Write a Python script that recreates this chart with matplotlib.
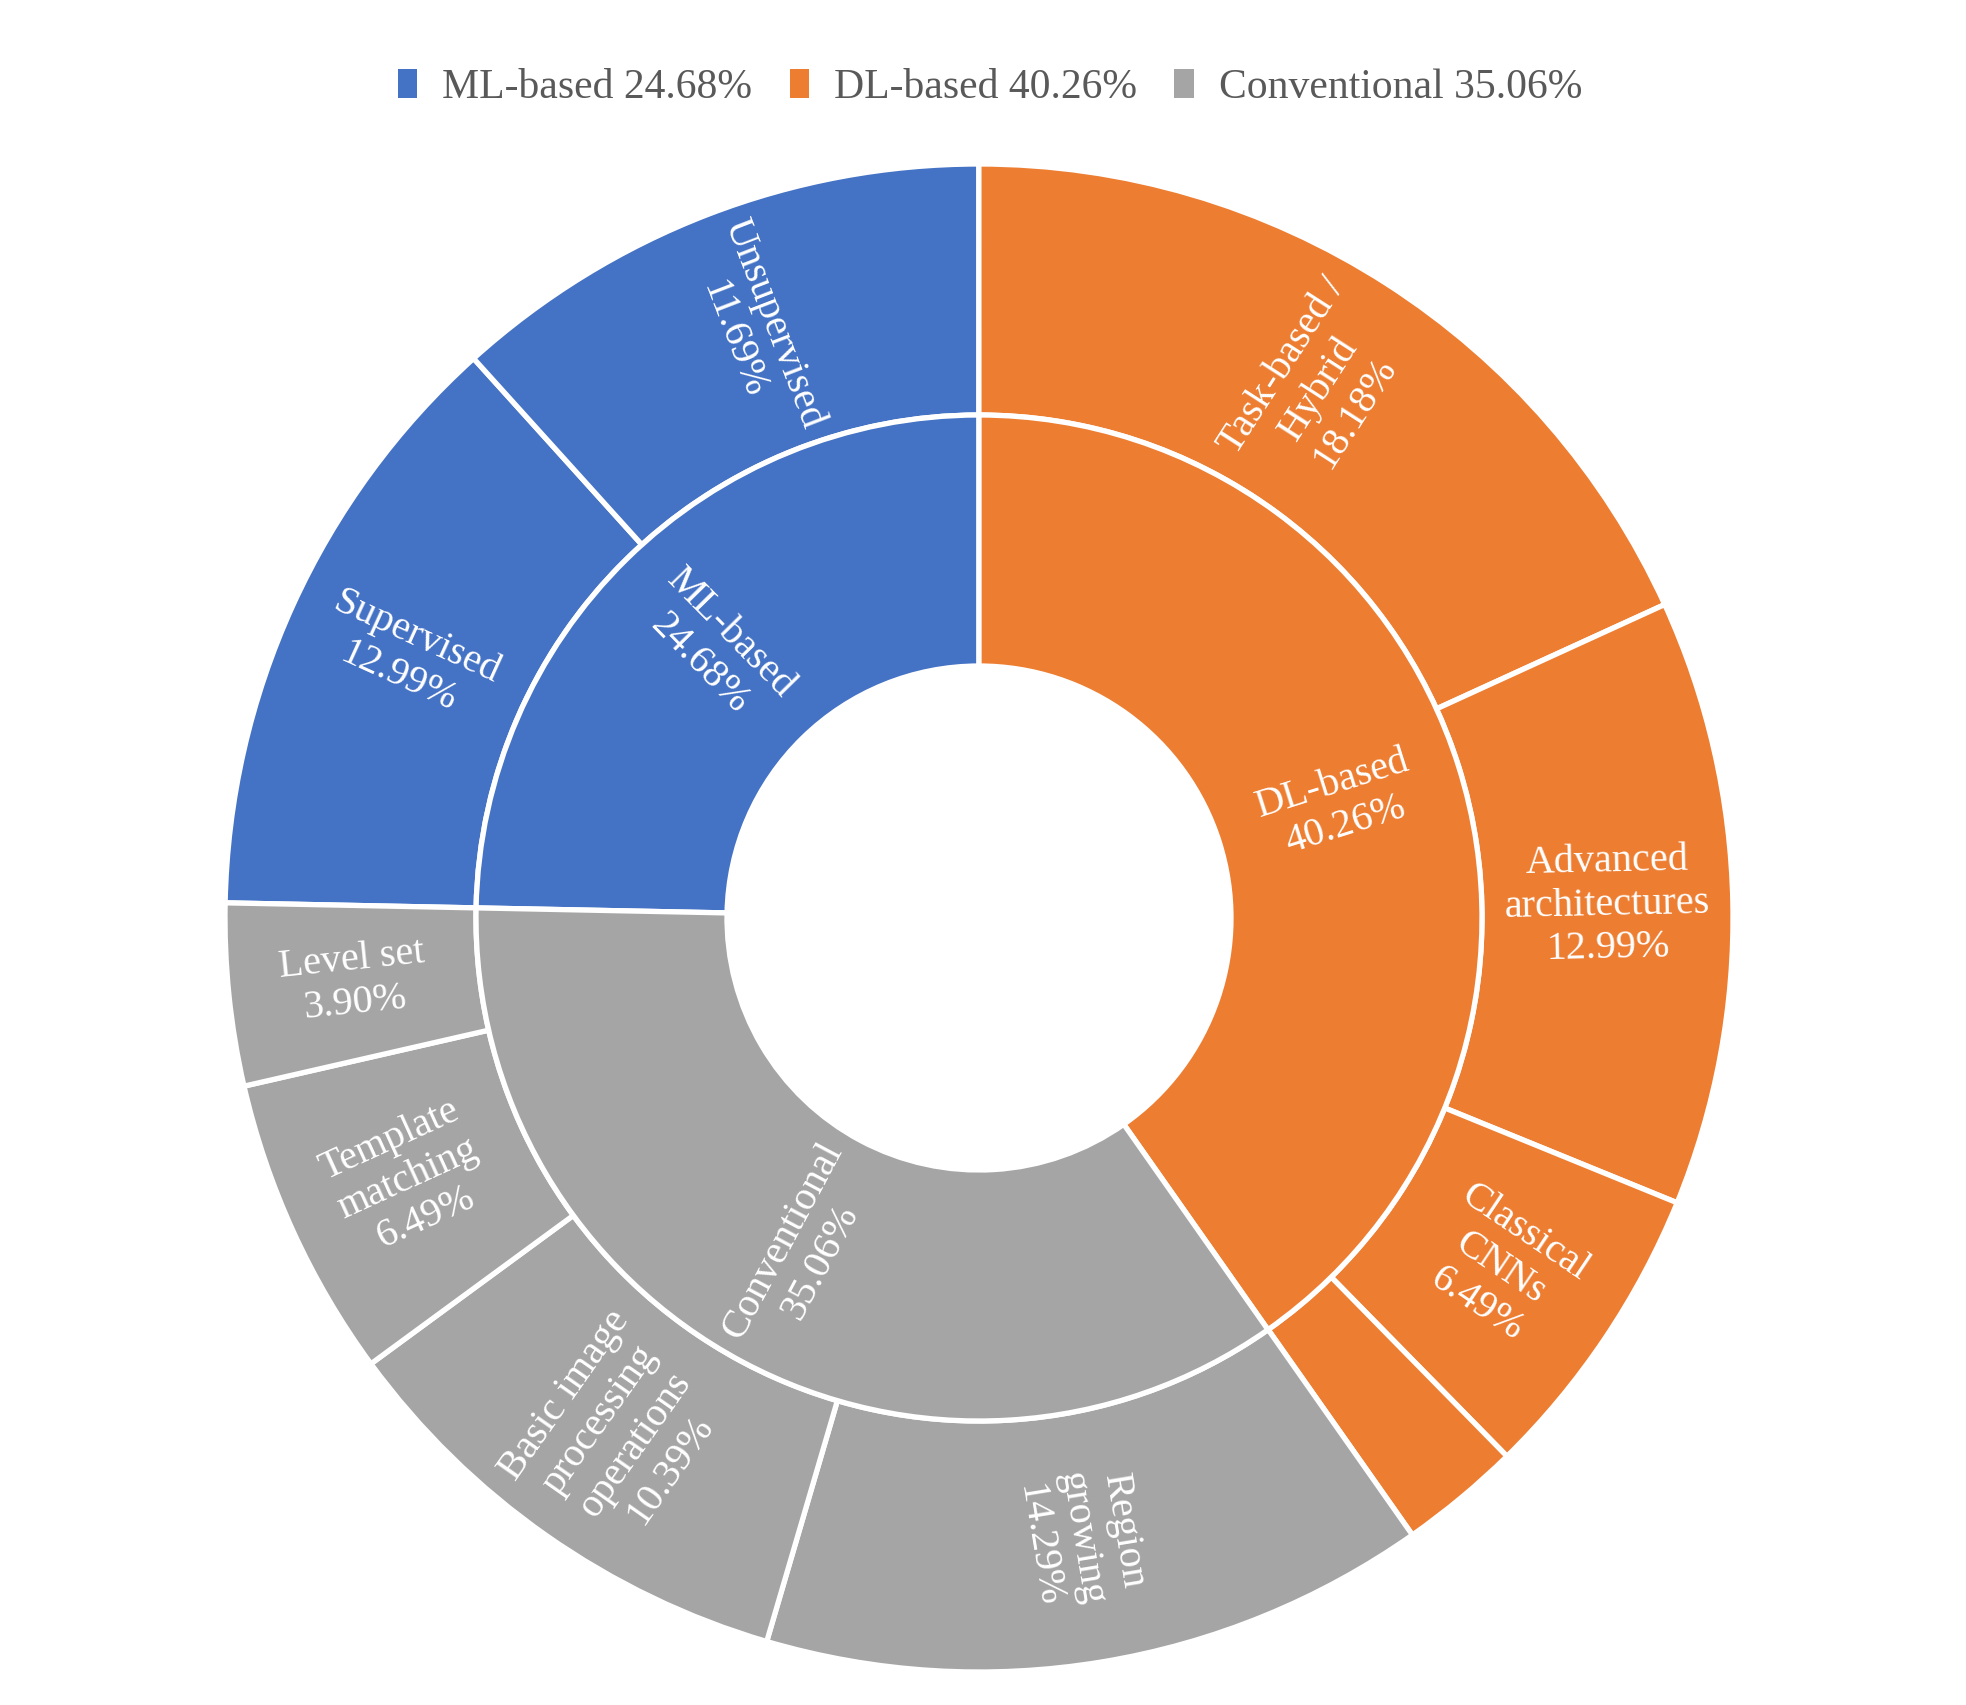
import numpy as np
import matplotlib
matplotlib.use("Agg")
import matplotlib.pyplot as plt
from matplotlib.patches import Patch

# Inner ring (groups), clockwise from the ML-based start
groups = ["ML-based", "DL-based", "Conventional"]
group_vals = [24.68, 40.26, 35.06]
group_colors = ["#4472C4", "#ED7D31", "#A5A5A5"]

# Outer ring (sub-categories), same clockwise order
sub_labels = ["Supervised\n12.99%", "Unsupervised\n11.69%",
              "Task-based /\nHybrid\n18.18%", "Advanced\narchitectures\n12.99%",
              "Classical\nCNNs\n6.49%", "",
              "Region\ngrowing\n14.29%", "Basic image\nprocessing\noperations\n10.39%",
              "Template\nmatching\n6.49%", "Level set\n3.90%"]
sub_vals = [12.99, 11.69, 18.18, 12.99, 6.49, 2.60, 14.29, 10.39, 6.49, 3.90]
sub_group = [0, 0, 1, 1, 1, 1, 2, 2, 2, 2]

W, H = 1966, 1705
cx, cy = 979, 918
R_out, R_mid, R_in = 754, 503, 252

plt.rcParams["font.family"] = ["Liberation Serif", "DejaVu Serif"]

fig = plt.figure(figsize=(W / 100, H / 100), dpi=100)
ax = fig.add_axes([0, 0, 1, 1])
ax.set_aspect("equal")
ax.axis("off")

start = 90 - (1 - group_vals[0] / 100) * 360  # ML begins just above 9 o'clock
wp = dict(edgecolor="white", linewidth=3.8)

ax.pie(sub_vals, radius=R_out, colors=[group_colors[g] for g in sub_group],
       startangle=start, counterclock=False,
       wedgeprops=dict(width=R_out - R_mid, **wp))
ax.pie(group_vals, radius=R_mid, colors=group_colors,
       startangle=start, counterclock=False,
       wedgeprops=dict(width=R_mid - R_in, **wp))
ax.set_xlim(-cx, W - cx)
ax.set_ylim(-(H - cy), cy)


def put_labels(vals, labels, r):
    acc = 0
    for v, lab in zip(vals, labels):
        mid = start - (acc + v / 2) / 100 * 360
        acc += v
        if not lab:
            continue
        th = (mid + 180) % 360 - 180
        rot = th if -90 <= th <= 90 else th - 180
        t = np.deg2rad(th)
        ax.text(r * np.cos(t), r * np.sin(t), lab, color="white", fontsize=29,
                ha="center", va="center", rotation=rot, rotation_mode="anchor",
                multialignment="center", linespacing=1.22)


put_labels(sub_vals, sub_labels, (R_out + R_mid) / 2)
put_labels(group_vals, [f"{g}\n{v:.2f}%" for g, v in zip(groups, group_vals)],
           (R_mid + R_in) / 2)

handles = [Patch(facecolor=c, edgecolor="none") for c in group_colors]
fig.legend(handles, [f"{g} {v:.2f}%" for g, v in zip(groups, group_vals)],
           loc="center", bbox_to_anchor=(990 / W, 1 - 88 / H), ncol=3,
           frameon=False, fontsize=30, labelcolor="#595959",
           handlelength=0.46, handleheight=0.67, handletextpad=0.6,
           columnspacing=0.9)

fig.savefig("out.png", dpi=100)
